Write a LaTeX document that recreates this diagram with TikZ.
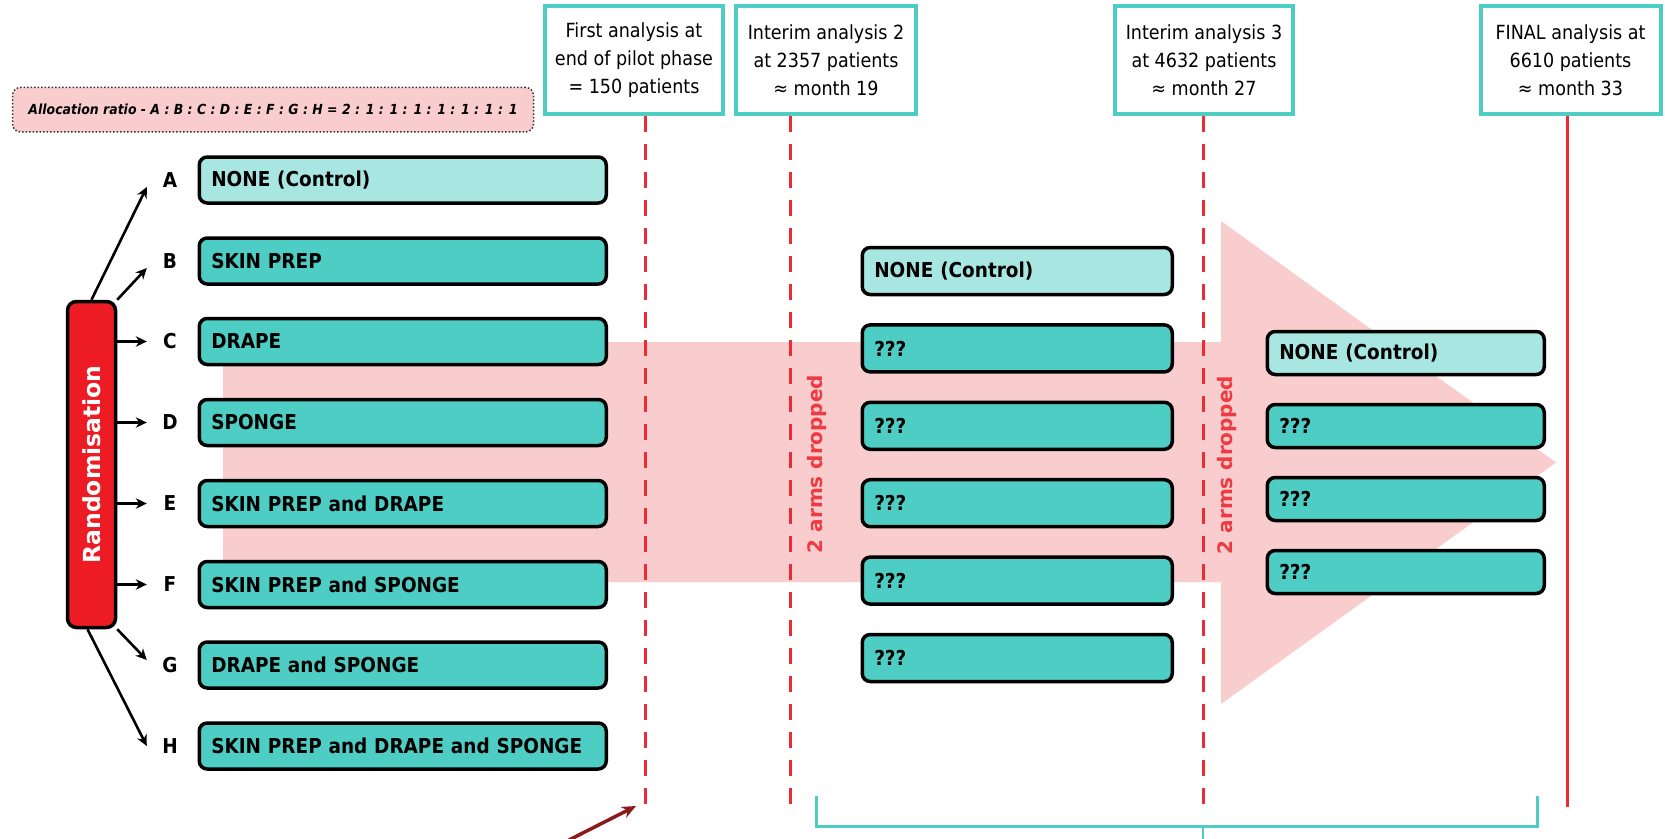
\documentclass[tikz,border=0pt]{standalone}
\usepackage{fontspec}
\setmainfont{DejaVu Sans Condensed}[BoldFont={DejaVu Sans Condensed Bold},ItalicFont={DejaVu Sans Condensed Oblique},BoldItalicFont={DejaVu Sans Condensed Bold Oblique}]
\newfontfamily\widefont{DejaVu Sans}[BoldFont={DejaVu Sans Bold}]
\usetikzlibrary{arrows.meta,calc}
\definecolor{tealA}{HTML}{4ECDC4}
\definecolor{tealB}{HTML}{A8E6E1}
\definecolor{pinkbg}{HTML}{F9CCCE}
\definecolor{redbox}{HTML}{ED1C24}
\definecolor{redline}{HTML}{EE2A35}
\definecolor{redtext}{HTML}{EE3A43}
\definecolor{darkred}{HTML}{8B1A1A}
\newcommand{\armfont}{\bfseries\fontsize{20.5}{24}\selectfont}
\begin{document}
\begin{tikzpicture}[x=1pt,y=-1pt,
  armbox/.style={draw=black, line width=3.5pt, rounded corners=8pt, fill=tealA, anchor=west,
    inner xsep=12pt, inner ysep=0pt, align=left, font=\armfont, text=black},
  ctrlbox/.style={armbox, fill=tealB},
  leftcol/.style={text width=383pt, minimum height=46pt},
  midcol/.style={text width=286pt, minimum height=47pt},
  rightcol/.style={text width=253pt, minimum height=43pt},
  letter/.style={font=\armfont, minimum width=46pt, inner sep=0pt},
  topbox/.style={draw=tealA, line width=4pt, fill=white, align=center, inner sep=0pt,
    font=\fontsize{19.5}{28}\selectfont, minimum width=178pt, minimum height=108pt},
  arr/.style={-{Stealth[length=11pt,width=10.5pt]}, line width=2.6pt, black},
  timeline/.style={redline, line width=3pt, dash pattern=on 16pt off 12pt},
  dropped/.style={rotate=90, text=redtext, font=\widefont\bfseries\fontsize{20}{24}\selectfont},
]
\useasboundingbox (0,0) rectangle (1665,838);

% background pink arrow
\fill[pinkbg] (223,342) -- (1221,342) -- (1221,221) -- (1556,462.5) -- (1221,704) -- (1221,582) -- (223,582) -- cycle;

% timelines
\coordinate (d1t) at (645,116); \coordinate (d1b) at (645,807);
\coordinate (d2t) at (790,116); \coordinate (d2b) at (790,807);
\coordinate (d3t) at (1203,116); \coordinate (d3b) at (1203,807);
\coordinate (d4t) at (1567,116); \coordinate (d4b) at (1567,807);
\draw[timeline] (d1t) -- (d1b);
\draw[timeline] (d2t) -- (d2b);
\draw[timeline] (d3t) -- (d3b);
\draw[redline, line width=3pt] (d4t) -- (d4b);

% top analysis boxes
\node[topbox] (t1) at (634,60) {First analysis at\\end of pilot phase\\= 150 patients};
\node[topbox, minimum width=180pt] (t2) at (826,60) {Interim analysis 2\\at 2357 patients\\≈ month 19};
\node[topbox] (t3) at (1204,60) {Interim analysis 3\\at 4632 patients\\≈ month 27};
\node[topbox, minimum width=180pt] (t4) at (1570.5,60) {FINAL analysis at\\6610 patients\\≈ month 33};

% allocation ratio
\node[draw=black!80, dotted, line width=1.5pt, rounded corners=8pt, fill=pinkbg,
  minimum width=521pt, minimum height=44.5pt, inner sep=0pt] (alloc) at (273,109.7)
  {\resizebox{489pt}{!}{\bfseries\itshape Allocation ratio - A : B : C : D : E : F : G : H = 2 : 1 : 1 : 1 : 1 : 1 : 1 : 1}};

% randomisation
\node[draw=black, line width=3.5pt, rounded corners=9pt, fill=redbox, minimum width=48pt,
  minimum height=326pt, inner sep=0pt, text=white] (rand) at (91.5,464.5)
  {\rotatebox{90}{\widefont\bfseries\fontsize{23.5}{28}\selectfont Randomisation}};

% letters
\node[letter] (la) at (170,180) {A};
\node[letter] (lb) at (170,261) {B};
\node[letter] (lc) at (170,341.5) {C};
\node[letter] (ld) at (170,422.5) {D};
\node[letter] (le) at (170,503.5) {E};
\node[letter] (lf) at (170,584.5) {F};
\node[letter] (lg) at (170,665) {G};
\node[letter] (lh) at (170,746) {H};

% left column arms
\node[ctrlbox, leftcol] (a1) at (197.5,180) {NONE (Control)};
\node[armbox, leftcol] (a2) at (197.5,261) {SKIN PREP};
\node[armbox, leftcol] (a3) at (197.5,341.5) {DRAPE};
\node[armbox, leftcol] (a4) at (197.5,422.5) {SPONGE};
\node[armbox, leftcol] (a5) at (197.5,503.5) {SKIN PREP and DRAPE};
\node[armbox, leftcol] (a6) at (197.5,584.5) {SKIN PREP and SPONGE};
\node[armbox, leftcol] (a7) at (197.5,665) {DRAPE and SPONGE};
\node[armbox, leftcol] (a8) at (197.5,746) {SKIN PREP and DRAPE and SPONGE};

% arrows from randomisation
\draw[arr] (rand.north) -- ([yshift=-7pt]la.west);
\draw[arr] (rand.north east) -- ([yshift=-7pt]lb.west);
\draw[arr] (rand.east |- lc.west) -- (lc.west);
\draw[arr] (rand.east |- ld.west) -- (ld.west);
\draw[arr] (rand.east |- le.west) -- (le.west);
\draw[arr] (rand.east |- lf.west) -- (lf.west);
\draw[arr] (rand.south east) -- ([yshift=5pt]lg.west);
\draw[arr] ([xshift=-4pt]rand.south) -- ([yshift=0pt]lh.west);

% middle column
\node[ctrlbox, midcol] (m1) at (860.5,271) {NONE (Control)};
\node[armbox, midcol] (m2) at (860.5,348.4) {???};
\node[armbox, midcol] (m3) at (860.5,425.8) {???};
\node[armbox, midcol] (m4) at (860.5,503.2) {???};
\node[armbox, midcol] (m5) at (860.5,580.6) {???};
\node[armbox, midcol] (m6) at (860.5,658) {???};

% right column
\node[ctrlbox, rightcol] (r1) at (1265.5,353) {NONE (Control)};
\node[armbox, rightcol] (r2) at (1265.5,426) {???};
\node[armbox, rightcol] (r3) at (1265.5,499) {???};
\node[armbox, rightcol] (r4) at (1265.5,572) {???};

% dropped labels
\node[dropped] (drop1) at (817,464) {2 arms dropped};
\node[dropped] (drop2) at (1227,465) {2 arms dropped};

% bracket
\coordinate (bl) at (816,796); \coordinate (br) at (1537,796);
\coordinate (bm) at (1203,826); \coordinate (bb) at (1203,840);
\draw[tealA, line width=3pt] (bl) -- (bl |- bm) -- (br |- bm) -- (br);
\draw[tealA, line width=2pt] (bm) -- (bb);

% dark red arrow
\coordinate (ds) at (569,840); \coordinate (dt) at (636,806);
\draw[darkred, line width=3.5pt, -{Stealth[length=14pt,width=12pt]}] (ds) -- (dt);
\end{tikzpicture}
\end{document}
